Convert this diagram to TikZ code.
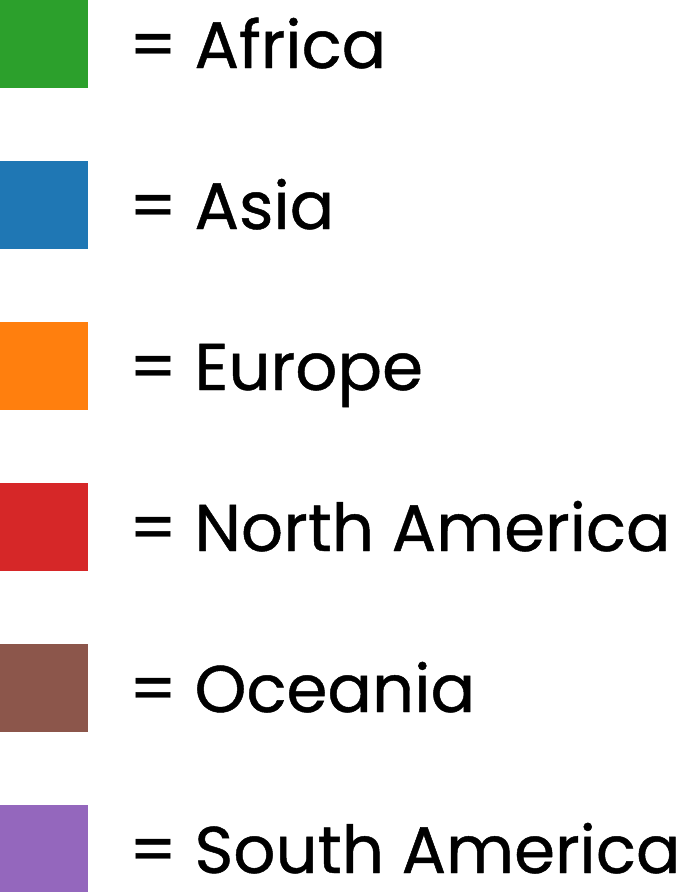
\documentclass[tikz,border=0pt]{standalone}
\usepackage{fontspec}
\setmainfont[FakeBold=0.7]{Poppins}
\usepackage{tikz}

\definecolor{africa}{HTML}{2CA02C}
\definecolor{asia}{HTML}{1F77B4}
\definecolor{europe}{HTML}{FF7F0E}
\definecolor{namerica}{HTML}{D62728}
\definecolor{oceania}{HTML}{8C564B}
\definecolor{samerica}{HTML}{9467BD}

\begin{document}
\begin{tikzpicture}[x=1pt,y=-1pt,
  swatch/.style={draw=none,inner sep=0pt,minimum size=88pt},
  legendtext/.style={anchor=base west,inner sep=0pt,text depth=0pt,font=\fontsize{66}{78}\selectfont}]

% Parameters
\def\gap{161}   % row spacing
\def\tx{129}    % text start

% Page frame
\useasboundingbox (0,0) rectangle (693,892);

% Legend rows
\foreach \c/\t [count=\i from 0] in {africa/Africa,asia/Asia,europe/Europe,
    namerica/North America,oceania/Oceania,samerica/South America}
{
  \node[swatch,fill=\c,anchor=north west] (sw\i) at (0,\i*\gap) {};
  \node[legendtext] (lb\i) at (\tx,68+\i*\gap) {= \t};
}

\end{tikzpicture}
\end{document}
